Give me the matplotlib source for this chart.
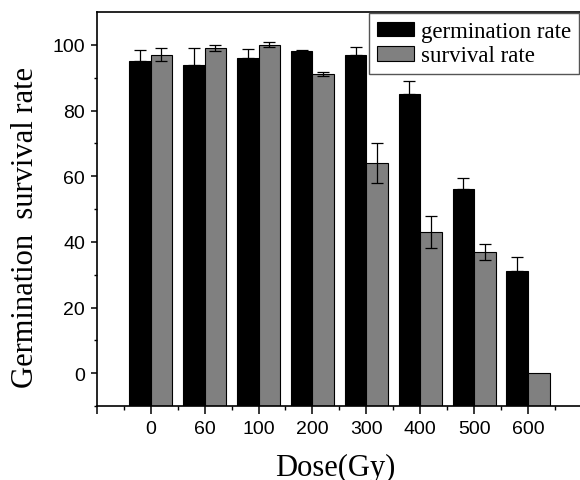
import matplotlib
matplotlib.use("Agg")
import matplotlib.pyplot as plt
import numpy as np
from matplotlib.ticker import FixedLocator

doses = ["0", "60", "100", "200", "300", "400", "500", "600"]
germination = [95, 94, 96, 98, 97, 85, 56, 31]
germination_err = [3.3, 5.0, 2.6, 0.5, 2.2, 4.0, 3.3, 4.4]
survival = [97, 99, 100, 91, 64, 43, 37, 0]
survival_err = [2.0, 1.0, 0.8, 0.6, 6.0, 5.0, 2.4, 0.0]

y_min, y_max = -10, 110

fig = plt.figure(figsize=(5.8, 4.81), dpi=100)
ax = fig.add_axes([96.8 / 580, (481 - 407) / 481, 485.1 / 580, 394 / 481])

x = np.arange(len(doses))
w = 0.4
g = np.array(germination, dtype=float)
s = np.array(survival, dtype=float)
ax.bar(x - w / 2, g - y_min, w, bottom=y_min, color="black", edgecolor="black",
       linewidth=0.8, label="germination rate", zorder=2)
ax.bar(x + w / 2, s - y_min, w, bottom=y_min, color="#808080", edgecolor="black",
       linewidth=0.8, label="survival rate", zorder=2)
ax.errorbar(x - w / 2, g, yerr=[np.zeros(len(x)), germination_err], fmt="none",
            ecolor="black", elinewidth=0.9, capsize=4.5, capthick=0.9, zorder=3)
ax.errorbar(x[:-1] + w / 2, s[:-1], yerr=survival_err[:-1], fmt="none",
            ecolor="black", elinewidth=0.9, capsize=4.5, capthick=0.9, zorder=3)

ax.set_xlim(-1, 8)
ax.set_ylim(y_min, y_max)

ax.xaxis.set_major_locator(FixedLocator(list(range(-1, 9))))
ax.set_xticklabels([""] + doses + [""])
ax.xaxis.set_minor_locator(FixedLocator(list(np.arange(-0.5, 8, 1.0))))
ax.yaxis.set_major_locator(FixedLocator([0, 20, 40, 60, 80, 100]))
ax.yaxis.set_minor_locator(FixedLocator([-10, 10, 30, 50, 70, 90]))

for lbl in ax.get_xticklabels() + ax.get_yticklabels():
    lbl.set_fontfamily("Liberation Sans")
    lbl.set_fontsize(14)

ax.tick_params(axis="x", which="major", direction="out", length=6, width=1.1, pad=4)
ax.tick_params(axis="x", which="minor", direction="out", length=3, width=1.0)
ax.tick_params(axis="y", which="major", direction="out", length=4.5, width=1.1, pad=4)
ax.tick_params(axis="y", which="minor", direction="out", length=2.5, width=1.0)

for sp in ax.spines.values():
    sp.set_linewidth(1.2)

ax.set_xlabel("Dose(Gy)", fontfamily="Liberation Serif", fontsize=22)
ax.xaxis.set_label_coords(0.491, -0.12)
ax.set_ylabel("Germination  survival rate", fontfamily="Liberation Serif", fontsize=22)
ax.yaxis.set_label_coords(-0.118, 0.456)

leg = ax.legend(loc="upper right", bbox_to_anchor=(0.9934, 0.9975), borderaxespad=0,
                prop={"family": "Liberation Serif", "size": 16.5}, fancybox=False,
                handlelength=1.6, handleheight=0.6, handletextpad=0.3,
                labelspacing=0.15, borderpad=0.35, framealpha=1)
leg.get_frame().set_edgecolor("#555555")
leg.get_frame().set_linewidth(1.0)

fig.savefig("out.png", dpi=100)
